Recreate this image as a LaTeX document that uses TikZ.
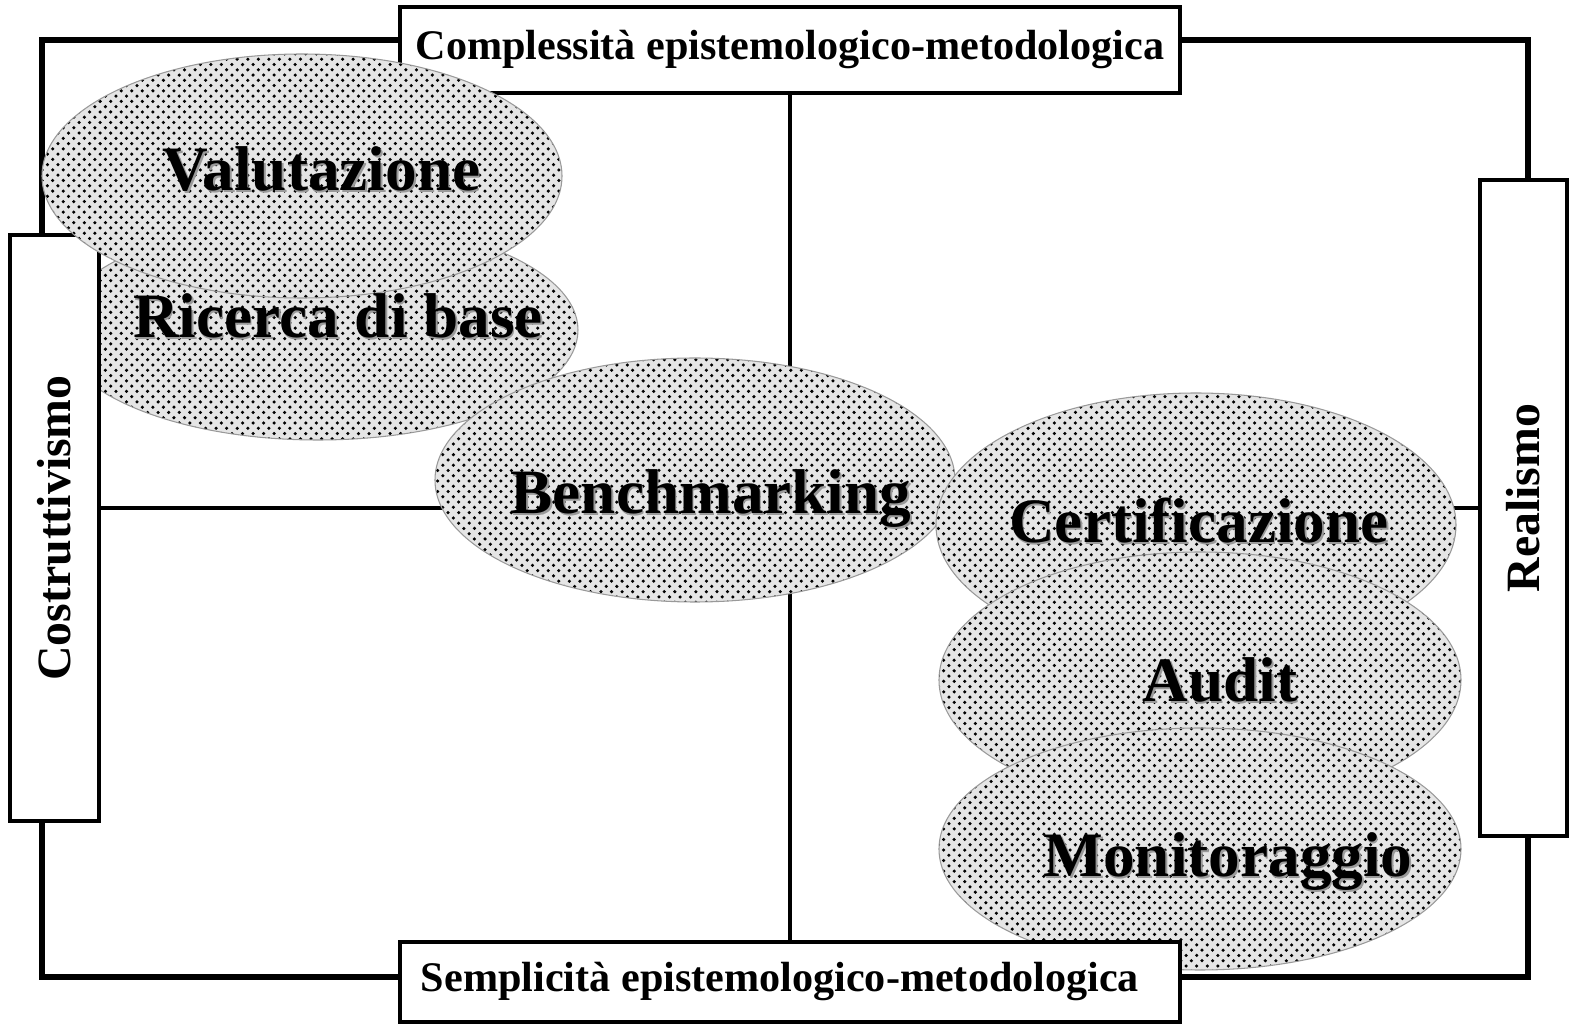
\documentclass[tikz,border=0pt]{standalone}
\usepackage{fontspec}
\setmainfont{Liberation Serif}
\usetikzlibrary{shapes.geometric,patterns,backgrounds}
\newcommand\shad[1]{\rlap{\hspace{0.45pt}\raisebox{-0.45pt}{\color{black!40}#1}}#1}
\tikzset{
	blob/.style={ellipse,draw=gray!80,line width=0.3pt,preaction={fill=black!10},
		pattern=crosshatch dots,pattern color=black,inner sep=0pt,outer sep=0pt},
	tag/.style={draw,line width=0.9pt,fill=white,inner sep=0pt,font=\bfseries\fontsize{12}{14}\selectfont},
	sidetag/.style={tag,rotate=90,font=\bfseries\fontsize{13.6}{15}\selectfont},
	word/.style={anchor=base,inner sep=0pt,font=\bfseries\fontsize{18}{20}\selectfont},
	frame/.style={line width=1.5pt},
	axis/.style={line width=1.3pt}
}
\begin{document}
\begin{tikzpicture}
		\useasboundingbox (0,0) rectangle (15.69,10.24);
		\node[tag,minimum width=7.8cm,minimum height=0.86cm] (top) at(7.90,9.74){Complessità epistemologico-metodologica};
		\node[blob,minimum width=5.2cm,minimum height=2.2cm] (ric) at(3.18,6.94){};
		\node[sidetag,minimum width=5.86cm,minimum height=0.89cm] (left) at(0.545,4.96){Costruttivismo};
		\node[blob,minimum width=5.2cm,minimum height=2.44cm] (val) at(3.02,8.48){};
		\node[blob,minimum width=5.2cm,minimum height=2.44cm] (ben) at(6.95,5.44){};
		\node[blob,minimum width=5.2cm,minimum height=2.64cm] (cer) at(11.96,4.99){};
		\node[blob,minimum width=5.22cm,minimum height=2.56cm] (aud) at(12.00,3.44){};
		\node[blob,minimum width=5.22cm,minimum height=2.42cm] (mon) at(12.00,1.75){};
		\node[tag,minimum width=7.8cm,minimum height=0.80cm] (bot) at(7.90,0.42){Semplicità epistemologico-metodologica\hspace*{0.2cm}};
		\node[sidetag,minimum width=6.56cm,minimum height=0.87cm] (right) at(15.235,5.16){\hspace*{0.2cm}Realismo};
		\node[word] (tval) at(3.215,8.33){\shad{Valutazione}};
		\node[word] (tric) at(3.38,6.86){\shad{Ricerca di base}};
		\node[word] (tben) at(7.11,5.10){\shad{Benchmarking}};
		\node[word] (tcer) at(11.99,4.81){\shad{Certificazione}};
		\node[word] (taud) at(12.20,3.22){\shad{Audit}};
		\node[word] (tmon) at(12.28,1.47){\shad{Monitoraggio}};
		\begin{scope}[on background layer]
			\draw[frame] (0.42,0.47) rectangle (15.28,9.84);
			\draw[axis] (top.south) -- (bot.north);
			\draw[axis] (right.north) -- (right.north -| left.south);
		\end{scope}
	\end{tikzpicture}
\end{document}
